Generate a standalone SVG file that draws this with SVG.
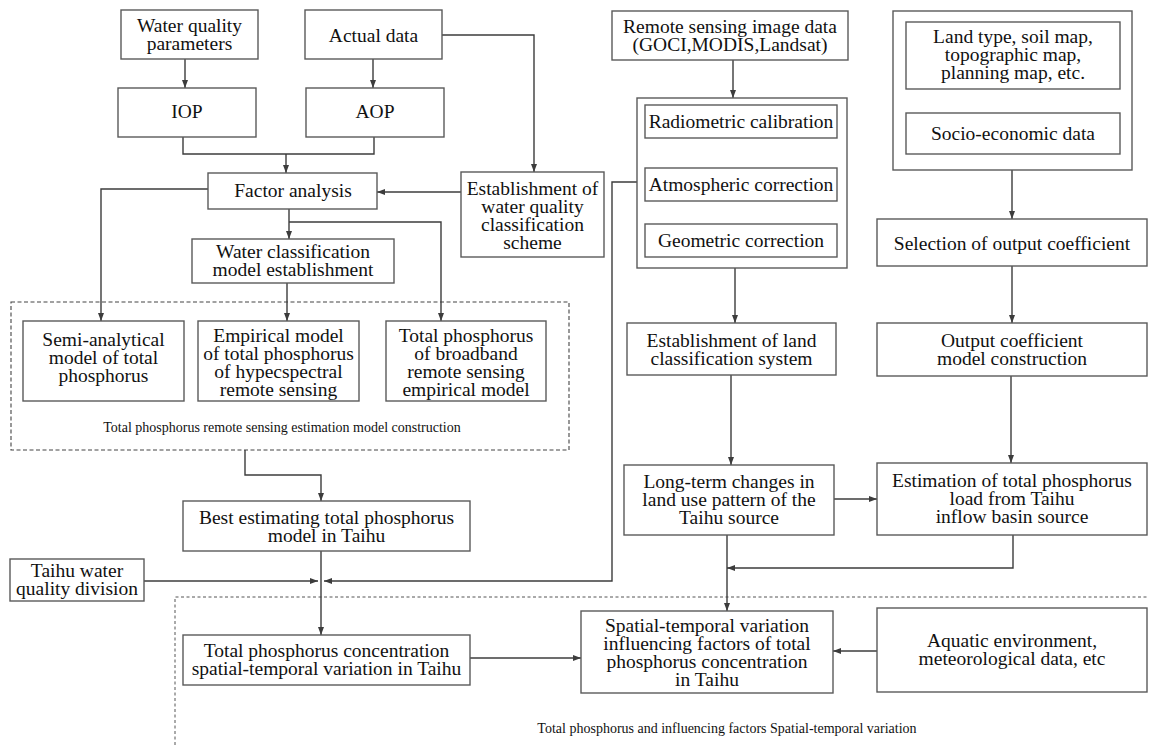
<svg xmlns="http://www.w3.org/2000/svg" width="1149" height="745" viewBox="0 0 1149 745">
  <style>
    .box { fill: #fff; stroke: #5a5a5a; stroke-width: 1.4; }
    .frame { fill: none; stroke: #5a5a5a; stroke-width: 1.4; }
    .wire { fill: none; stroke: #3c3c3c; stroke-width: 1.4; }
    .arrow { fill: none; stroke: #3c3c3c; stroke-width: 1.4; marker-end: url(#head); }
    .dash1 { fill: none; stroke: #444; stroke-width: 1.1; stroke-dasharray: 4 2.5; }
    .dash2 { fill: none; stroke: #555; stroke-width: 1; stroke-dasharray: 3 2.5; }
    text { font-family: "Liberation Serif", "Times New Roman", serif; font-size: 19.5px; fill: #111; text-anchor: middle; }
    .cap { font-size: 14px; }
  </style>
  <defs>
    <marker id="head" viewBox="0 0 8 6" refX="8" refY="3" markerWidth="8" markerHeight="6" markerUnits="userSpaceOnUse" orient="auto">
      <path d="M0,0 L8,3 L0,6 z" fill="#3c3c3c"/>
    </marker>
  </defs>

  <!-- group frames -->
  <g id="group-estimation">
    <rect class="dash1" x="11" y="302" width="558" height="148"/>
    <text class="cap" x="282" y="432">Total phosphorus remote sensing estimation model construction</text>
  </g>
  <g id="group-variation">
    <path class="dash2" d="M175,745 V597 H1149"/>
    <text class="cap" x="727" y="733">Total phosphorus and influencing factors Spatial-temporal variation</text>
  </g>

  <!-- connectors -->
  <g id="connectors">
    <path class="arrow" d="M185,59 V88"/>
    <path class="arrow" d="M373,59 V88"/>
    <path class="wire" d="M183,137 V154 H374 V137"/>
    <path class="arrow" d="M286,154 V173"/>
    <path class="arrow" d="M442,35 H534 V172"/>
    <path class="arrow" d="M461,192 H377"/>
    <path class="arrow" d="M208,189 H101 V321"/>
    <path class="arrow" d="M289,209 V239"/>
    <path class="arrow" d="M289,222 H441 V321"/>
    <path class="arrow" d="M287,283 V321"/>
    <path class="arrow" d="M245,450 V475 H321 V501"/>
    <path class="arrow" d="M637,182 H612 V581 H324"/>
    <path class="arrow" d="M144,581 H318"/>
    <path class="arrow" d="M321,551 V635"/>
    <path class="arrow" d="M470,658 H581"/>
    <path class="arrow" d="M733,60 V98"/>
    <path class="arrow" d="M735,268 V323"/>
    <path class="arrow" d="M731,375 V465"/>
    <path class="arrow" d="M834,499 H877"/>
    <path class="arrow" d="M1012,170 V219"/>
    <path class="arrow" d="M1012,266 V323"/>
    <path class="arrow" d="M1011,376 V463"/>
    <path class="arrow" d="M1013,535 V568 H727"/>
    <path class="arrow" d="M727,535 V611"/>
    <path class="arrow" d="M877,651 H833"/>
  </g>

  <!-- nodes -->
  <g id="water-quality-parameters">
    <rect class="box" x="121" y="10" width="137" height="49"/>
    <text x="189.5" y="32">Water quality<tspan x="189.5" dy="18">parameters</tspan></text>
  </g>
  <g id="actual-data">
    <rect class="box" x="305" y="10" width="137" height="49"/>
    <text x="373.5" y="42">Actual data</text>
  </g>
  <g id="iop">
    <rect class="box" x="118" y="88" width="138" height="49"/>
    <text x="187" y="118">IOP</text>
  </g>
  <g id="aop">
    <rect class="box" x="306" y="88" width="138" height="49"/>
    <text x="375" y="118">AOP</text>
  </g>
  <g id="factor-analysis">
    <rect class="box" x="208" y="173" width="169" height="36"/>
    <text x="293" y="197">Factor analysis</text>
  </g>
  <g id="water-classification">
    <rect class="box" x="192" y="239" width="202" height="44"/>
    <text x="293" y="258">Water classification<tspan x="293" dy="18">model establishment</tspan></text>
  </g>
  <g id="classification-scheme">
    <rect class="box" x="461" y="172" width="143" height="85"/>
    <text x="532.5" y="195">Establishment of<tspan x="532.5" dy="18">water quality</tspan><tspan x="532.5" dy="18">classification</tspan><tspan x="532.5" dy="18">scheme</tspan></text>
  </g>
  <g id="semi-analytical">
    <rect class="box" x="23" y="321" width="161" height="80"/>
    <text x="103.5" y="346">Semi-analytical<tspan x="103.5" dy="18">model of total</tspan><tspan x="103.5" dy="18">phosphorus</tspan></text>
  </g>
  <g id="empirical-hyperspectral">
    <rect class="box" x="198" y="321" width="161" height="80"/>
    <text x="278.5" y="342">Empirical model<tspan x="278.5" dy="18">of total phosphorus</tspan><tspan x="278.5" dy="18">of hypecspectral</tspan><tspan x="278.5" dy="18">remote sensing</tspan></text>
  </g>
  <g id="broadband-empirical">
    <rect class="box" x="386" y="321" width="160" height="80"/>
    <text x="466" y="342">Total phosphorus<tspan x="466" dy="18">of broadband</tspan><tspan x="466" dy="18">remote sensing</tspan><tspan x="466" dy="18">empirical model</tspan></text>
  </g>
  <g id="best-model">
    <rect class="box" x="183" y="501" width="287" height="50"/>
    <text x="326.5" y="524">Best estimating total phosphorus<tspan x="326.5" dy="18">model in Taihu</tspan></text>
  </g>
  <g id="water-quality-division">
    <rect class="box" x="10" y="559" width="134" height="42"/>
    <text x="77" y="577">Taihu water<tspan x="77" dy="18">quality division</tspan></text>
  </g>
  <g id="concentration-variation">
    <rect class="box" x="183" y="635" width="287" height="50"/>
    <text x="326.5" y="657">Total phosphorus concentration<tspan x="326.5" dy="18">spatial-temporal variation in Taihu</tspan></text>
  </g>
  <g id="remote-sensing-data">
    <rect class="box" x="612" y="11" width="236" height="49"/>
    <text x="730" y="33">Remote sensing image data<tspan x="730" dy="18">(GOCI,MODIS,Landsat)</tspan></text>
  </g>
  <g id="preprocessing">
    <rect class="frame" x="637" y="98" width="210" height="170"/>
    <rect class="box" x="645" y="105" width="192" height="33"/>
    <text x="741" y="128">Radiometric calibration</text>
    <rect class="box" x="645" y="168" width="192" height="33"/>
    <text x="741" y="191">Atmospheric correction</text>
    <rect class="box" x="645" y="224" width="192" height="33"/>
    <text x="741" y="247">Geometric correction</text>
  </g>
  <g id="basin-data">
    <rect class="frame" x="893" y="11" width="239" height="159"/>
    <rect class="box" x="906" y="22" width="214" height="67"/>
    <text x="1013" y="43">Land type, soil map,<tspan x="1013" dy="18">topographic map,</tspan><tspan x="1013" dy="18">planning map, etc.</tspan></text>
    <rect class="box" x="906" y="113" width="214" height="41"/>
    <text x="1013" y="140">Socio-economic data</text>
  </g>
  <g id="output-coefficient-selection">
    <rect class="box" x="877" y="219" width="270" height="47"/>
    <text x="1012" y="250">Selection of output coefficient</text>
  </g>
  <g id="land-classification">
    <rect class="box" x="627" y="323" width="209" height="52"/>
    <text x="731.5" y="347">Establishment of land<tspan x="731.5" dy="18">classification system</tspan></text>
  </g>
  <g id="output-coefficient-model">
    <rect class="box" x="877" y="323" width="270" height="53"/>
    <text x="1012" y="347">Output coefficient<tspan x="1012" dy="18">model construction</tspan></text>
  </g>
  <g id="land-use-changes">
    <rect class="box" x="624" y="465" width="210" height="70"/>
    <text x="729" y="488">Long-term changes in<tspan x="729" dy="18">land use pattern of the</tspan><tspan x="729" dy="18">Taihu source</tspan></text>
  </g>
  <g id="load-estimation">
    <rect class="box" x="877" y="463" width="270" height="72"/>
    <text x="1012" y="487">Estimation of total phosphorus<tspan x="1012" dy="18">load from Taihu</tspan><tspan x="1012" dy="18">inflow basin source</tspan></text>
  </g>
  <g id="influencing-factors">
    <rect class="box" x="581" y="611" width="252" height="82"/>
    <text x="707" y="632">Spatial-temporal variation<tspan x="707" dy="18">influencing factors of total</tspan><tspan x="707" dy="18">phosphorus concentration</tspan><tspan x="707" dy="18">in Taihu</tspan></text>
  </g>
  <g id="aquatic-environment">
    <rect class="box" x="877" y="608" width="270" height="84"/>
    <text x="1012" y="647">Aquatic environment,<tspan x="1012" dy="18">meteorological data, etc</tspan></text>
  </g>
</svg>
